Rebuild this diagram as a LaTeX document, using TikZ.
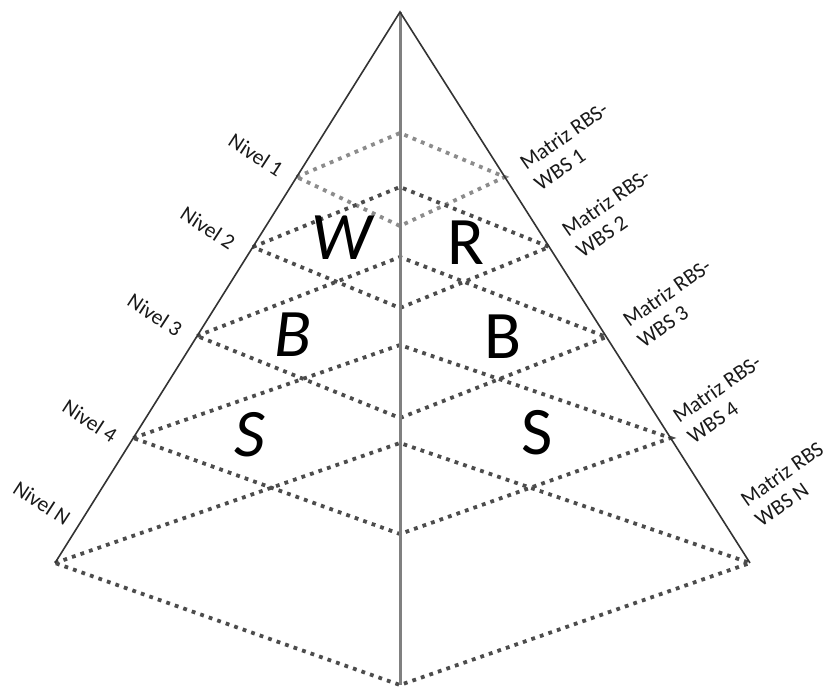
\documentclass[tikz,border=0pt]{standalone}
\usepackage{fontspec}
\setmainfont{Carlito}
\begin{document}
\begin{tikzpicture}[x=0.5pt,y=-0.5pt,
  edge/.style={draw=black!80, line width=0.8pt},
  axisline/.style={draw=black!50, line width=1.5pt},
  dots/.style={draw=black!70, line width=1.9pt, dash pattern=on 1.9pt off 2.6pt},
  dotslight/.style={dots, draw=black!45},
  niv/.style={font=\fontsize{10.8}{12.5}\selectfont, rotate=-33, text=black!90, inner sep=0pt},
  mat/.style={font=\fontsize{10.8}{12.5}\selectfont, rotate=35, align=left, text=black!90, inner sep=0pt},
  bigl/.style={font=\fontsize{34}{34}\selectfont, inner sep=0pt},
  bigi/.style={bigl, font=\fontsize{34}{34}\selectfont\itshape}]
\useasboundingbox (0,0) rectangle (826,689);
% pyramid frame
\coordinate (apex) at (400,12);
\coordinate (bl) at (55,563);
\coordinate (br) at (750,563);
\coordinate (bot) at (400,685);
% level diamonds: left, right, back (top), front (bottom)
\coordinate (l1) at (296.7,177); \coordinate (r1) at (504.8,177);
\coordinate (t1) at (400,133);   \coordinate (f1) at (400,226);
\coordinate (l2) at (252.9,247); \coordinate (r2) at (549.3,247);
\coordinate (t2) at (400,187);   \coordinate (f2) at (400,308);
\coordinate (l3) at (197.1,336); \coordinate (r3) at (606.4,337);
\coordinate (t3) at (400,257);   \coordinate (f3) at (400,418);
\coordinate (l4) at (133.3,438); \coordinate (r4) at (670.6,438);
\coordinate (t4) at (400,345);   \coordinate (f4) at (400,534);
\coordinate (t5) at (400,443);
% dotted levels
\draw[dotslight] (l1) -- (t1) -- (r1) -- (f1) -- cycle;
\draw[dots] (l2) -- (t2) -- (r2) -- (f2) -- cycle;
\draw[dots] (l3) -- (t3) -- (r3) -- (f3) -- cycle;
\draw[dots] (l4) -- (t4) -- (r4) -- (f4) -- cycle;
\draw[dots] (bl) -- (t5) -- (br) -- (bot) -- cycle;
% frame lines
\draw[axisline] (apex) -- (bot);
\draw[edge] (bl) -- (apex) -- (br);
% level labels
\node[niv] (n1) at (256,155) {Nivel 1};
\node[niv] (n2) at (208,228) {Nivel 2};
\node[niv] (n3) at (155,315) {Nivel 3};
\node[niv] (n4) at (90,421) {Nivel 4};
\node[niv] (n5) at (42,503) {Nivel N};
% matrix labels
\node[mat] (m1) at (571,146) {Matriz RBS-\\WBS 1};
\node[mat] (m2) at (613,213) {Matriz RBS-\\WBS 2};
\node[mat] (m3) at (674,303) {Matriz RBS-\\WBS 3};
\node[mat] (m4) at (724,399) {Matriz RBS-\\WBS 4};
\node[mat] (m5) at (789,484) {Matriz RBS\\WBS N};
% big letters
\node[bigi] (w) at (342,238) {W};
\node[bigi] (b1) at (293,335) {B};
\node[bigi] (s1) at (250,435) {S};
\node[bigl] (r) at (466,243) {R};
\node[bigl] (b2) at (503,337) {B};
\node[bigl] (s2) at (537,433) {S};
\end{tikzpicture}
\end{document}
